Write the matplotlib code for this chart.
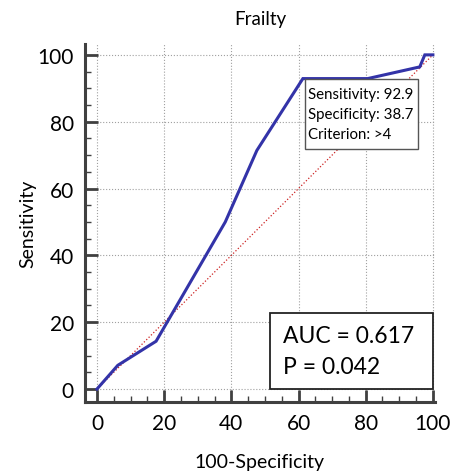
import numpy as np
import matplotlib.pyplot as plt
from matplotlib.ticker import MultipleLocator
from matplotlib.patches import Rectangle

plt.rcParams['font.family'] = ['Lato', 'DejaVu Sans']

# ROC curve points (100-specificity, sensitivity)
fpr = [0, 6.2, 17.6, 38.2, 47.6, 61.3, 80.6, 96.1, 97.6, 100]
sens = [0, 7.1, 14.3, 50.0, 71.4, 92.9, 92.9, 96.4, 100, 100]
ticks = [0, 20, 40, 60, 80, 100]
auc_text = "AUC = 0.617\nP = 0.042"
crit_text = "Sensitivity: 92.9\nSpecificity: 38.7\nCriterion: >4"

fig = plt.figure(figsize=(4.53, 4.77), dpi=100)
ax = fig.add_axes([0.1876, 0.155, 0.7724, 0.751])

# grid
ax.grid(True, which='major', linestyle=':', color='#a0a0a0', linewidth=0.8)
ax.set_axisbelow(True)

# chance line + roc curve
ax.plot([0, 100], [0, 100], linestyle=':', color='#cc2222', linewidth=0.9)
ax.plot(fpr, sens, color='#3333a8', linewidth=2.2, solid_joinstyle='miter')

ax.set_xlim(-3.57, 100.6)
ax.set_ylim(-3.9, 103.3)
ax.set_xticks(ticks)
ax.set_yticks(ticks)
ax.xaxis.set_minor_locator(MultipleLocator(5))
ax.yaxis.set_minor_locator(MultipleLocator(5))
ax.tick_params(which='major', direction='in', length=9, width=2, color='#404040',
               labelsize=15, pad=8)
ax.tick_params(which='minor', direction='in', length=4.5, width=1, color='#404040')

for s in ['top', 'right']:
    ax.spines[s].set_visible(False)
for s in ['left', 'bottom']:
    ax.spines[s].set_linewidth(2.2)
    ax.spines[s].set_color('#404040')

ax.set_title("Frailty", fontsize=13.5, pad=14)
ax.set_xlabel("100-Specificity", fontsize=14, labelpad=14)
ax.set_ylabel("Sensitivity", fontsize=14, labelpad=1)

# criterion box
ax.add_patch(Rectangle((61.9, 71.9), 33.6, 20.9, facecolor='white',
                       edgecolor='#555555', linewidth=1, zorder=3))
ax.text(62.9, 82.35, crit_text, fontsize=10.8, va='center', ha='left',
        linespacing=1.55, zorder=4)

# AUC box
ax.add_patch(Rectangle((51.5, 0.0), 48.5, 22.8, facecolor='white',
                       edgecolor='#222222', linewidth=1.3, zorder=3))
ax.text(55.4, 11.4, auc_text, fontsize=16.5, va='center', ha='left',
        linespacing=1.55, zorder=4)

fig.savefig("out.png", dpi=100)
